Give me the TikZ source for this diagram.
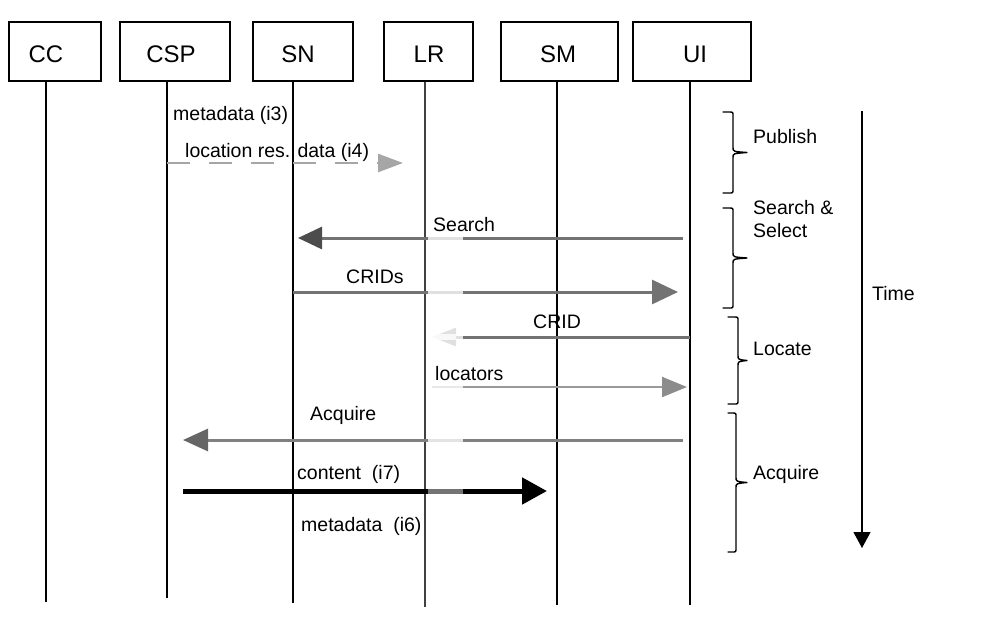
\documentclass[tikz,border=0pt]{standalone}
\usepackage{fontspec}
\setmainfont{Liberation Sans}
\usetikzlibrary{arrows.meta}
\newcommand{\phasebrace}[5]{% #1 arm x, #2 spine x, #3 tip x, #4 top y, #5 bottom y
  \pgfmathsetmacro\bmid{(#4+#5)/2}
  \draw[brc] (#1,#4) -- (#2-4,#4) .. controls (#2,#4) .. (#2,#4+4)
    -- (#2,\bmid-5) .. controls (#2,\bmid-1) .. (#3,\bmid)
    .. controls (#2,\bmid+1) .. (#2,\bmid+5)
    -- (#2,#5-4) .. controls (#2,#5) .. (#2-4,#5) -- (#1,#5);
}
\begin{document}
\begin{tikzpicture}[x=1pt,y=-1pt,
  box/.style={draw, line width=1.1pt, inner sep=0pt, minimum height=59pt},
  boxtext/.style={anchor=base, inner sep=0pt, font=\fontsize{24}{26}\selectfont},
  lbl/.style={anchor=base west, inner sep=0pt, font=\fontsize{19.5}{23}\selectfont},
  life/.style={line width=1.2pt, black},
  msg/.style={line width=3pt, black!55},
  fade/.style={line width=6pt, white, opacity=0.78},
  brc/.style={line width=1.4pt, line join=round, line cap=round},
]
\useasboundingbox (0,0) rectangle (999,622);

% boxes
\node[box, minimum width=92pt]  (CC)  at (55,51.5) {};
\node[box, minimum width=110pt] (CSP) at (175,51.5) {};
\node[box, minimum width=100pt] (SN)  at (303,51.5) {};
\node[box, minimum width=89pt]  (LR)  at (428.5,51.5) {};
\node[box, minimum width=117pt] (SM)  at (559.5,51.5) {};
\node[box, minimum width=118pt] (UI)  at (692,51.5) {};

\node[boxtext] (CCt)  at (46,62)  {CC};
\node[boxtext] (CSPt) at (171,62) {CSP};
\node[boxtext] (SNt)  at (298,62) {SN};
\node[boxtext] (LRt)  at (429,62) {LR};
\node[boxtext] (SMt)  at (558,62) {SM};
\node[boxtext] (UIt)  at (695,62) {UI};

% lifelines
\coordinate (ccE)  at (46,602);
\coordinate (cspE) at (167,598);
\coordinate (snE)  at (293,603);
\coordinate (lrE)  at (425,607);
\coordinate (smE)  at (557,605);
\coordinate (uiE)  at (690,605);
\draw[life] (CC.south -| ccE) -- (ccE);
\draw[life] (CSP.south -| cspE) -- (cspE);
\draw[life] (SN.south -| snE) -- (snE);
\draw[life, black!75] (LR.south -| lrE) -- (lrE);
\draw[life] (SM.south -| smE) -- (smE);
\draw[life] (UI.south -| uiE) -- (uiE);

% Publish messages
\node[lbl] (m3) at (173,120) {metadata (i3)};
\node[lbl] (m4) at (185,157) {location res. data (i4)};
\coordinate (i4a) at (167,163);
\coordinate (i4b) at (403,163);
\draw[line width=2.5pt, black!35, dash pattern=on 23pt off 19pt,
  -{Triangle[length=25pt,width=18pt,color=black!35]}] (i4a) -- (i4b);

% Search
\coordinate (sA) at (683,238);
\coordinate (sB) at (298,238);
\draw[msg, -{Triangle[length=24pt,width=22pt,color=black!70]}] (sA) -- (sB);
\draw[fade] (428,238) -- (463,238);
\node[lbl] (ls) at (433,231) {Search};

% CRIDs
\coordinate (cA) at (293,292);
\coordinate (cB) at (678,292);
\draw[msg, -{Triangle[length=26pt,width=24pt,color=black!55]}] (cA) -- (cB);
\draw[fade] (428,292) -- (463,292);
\node[lbl] (lc) at (346,283) {CRIDs};

% CRID
\coordinate (dA) at (690,337);
\coordinate (dB) at (432,337);
\draw[msg, -{Triangle[length=24pt,width=18pt,color=black!12]}] (dA) -- (dB);
\draw[fade] (428,337) -- (463,337);
\node[lbl] (ld) at (533,328) {CRID};

% locators
\coordinate (lA) at (432,387);
\coordinate (lB) at (687,387);
\draw[line width=2pt, black!40, -{Triangle[length=25pt,width=20pt,color=black!45]}] (lA) -- (lB);
\draw[fade] (428,387) -- (463,387);
\node[lbl] (ll) at (435,380) {locators};

% Acquire
\coordinate (aA) at (683,440);
\coordinate (aB) at (183,440);
\draw[msg, black!50, -{Triangle[length=25pt,width=22pt,color=black!60]}] (aA) -- (aB);
\draw[fade] (428,440) -- (463,440);
\node[lbl] (la) at (310,420) {Acquire};

% content
\coordinate (kA) at (183,491);
\coordinate (kB) at (547,491);
\draw[line width=5pt, black, -{Triangle[length=25pt,width=26pt]}] (kA) -- (kB);
\draw[line width=7pt, white, opacity=0.45] (428,491) -- (463,491);
\node[lbl] (lk) at (297,479) {content\ \ (i7)};
\node[lbl] (l6) at (301,531) {metadata\ \ (i6)};

% braces
\phasebrace{723}{733}{747}{112}{193}
\phasebrace{723}{733}{747}{208}{308}
\phasebrace{728}{738}{747}{317}{404}
\phasebrace{728}{736}{747}{413}{552}
\node[lbl] (pub) at (753,143) {Publish};
\node[lbl, align=left] (ss) at (753,237) {Search \&\\Select};
\node[lbl] (loc) at (753,355) {Locate};
\node[lbl] (acq) at (753,479) {Acquire};

% time arrow
\coordinate (tA) at (862,111);
\coordinate (tB) at (862,548);
\draw[line width=1.2pt, -{Triangle[length=16pt,width=17pt]}] (tA) -- (tB);
\node[lbl] (time) at (872,300) {Time};
\end{tikzpicture}
\end{document}
